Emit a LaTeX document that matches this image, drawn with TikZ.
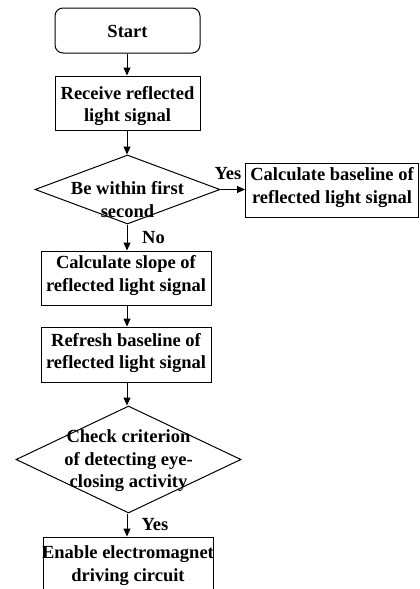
\documentclass[tikz,border=0pt]{standalone}
\usepackage{fontspec}
\setmainfont{Liberation Serif}
\usetikzlibrary{shapes.geometric,arrows.meta}
\tikzset{
  base/.style={font=\fontsize{18.5}{22.5}\selectfont\bfseries, align=center, line width=1pt},
  procbox/.style={base, draw, rectangle, inner sep=0pt},
  startbox/.style={base, draw, rectangle, rounded corners=8pt, inner sep=0pt},
  decbox/.style={draw, diamond, line width=1pt, inner sep=0pt},
  txt/.style={base, inner sep=0pt},
  arr/.style={line width=1pt, -{Triangle[length=8pt,width=7pt]}},
  lbl/.style={base, inner sep=0pt}
}
\begin{document}
\begin{tikzpicture}[x=1pt,y=-1pt]
\useasboundingbox (0,0) rectangle (420,589);
\node[startbox, minimum width=145pt, minimum height=45pt] (start) at (127.5,30.5) {};
\node[txt] (starttxt) at (127.5,31) {Start};
\node[procbox, minimum width=145pt, minimum height=54pt] (recv) at (127.5,103) {};
\node[txt] (recvtxt) at (127.5,106) {Receive reflected\\light signal};
\node[decbox, minimum width=185pt, minimum height=69pt] (d1) at (127.5,189.5) {};
\node[txt] (d1txt) at (127.5,199.5) {Be within first\\second};
\node[procbox, minimum width=173pt, minimum height=54pt] (bl) at (332,190) {};
\node[txt] (bltxt) at (332,187.5) {Calculate baseline of\\reflected light signal};
\node[procbox, minimum width=170pt, minimum height=54pt] (slope) at (126,278) {};
\node[txt] (slopetxt) at (126,275.5) {Calculate slope of\\reflected light signal};
\node[procbox, minimum width=170pt, minimum height=55pt] (refresh) at (126,354.5) {};
\node[txt] (refreshtxt) at (126,353) {Refresh baseline of\\reflected light signal};
\node[decbox, minimum width=225pt, minimum height=107pt] (d2) at (128.5,459.5) {};
\node[txt] (d2txt) at (128.5,461) {Check criterion\\of detecting eye-\\closing activity};
\node[procbox, minimum width=170pt, minimum height=60pt] (en) at (128,567) {};
\node[txt] (entxt) at (128,565.5) {Enable electromagnet\\driving circuit};
\draw[arr] (start.south -| 127,0) -- (recv.north -| 127,0);
\draw[arr] (recv.south -| 127,0) -- (d1.north -| 127,0);
\draw[arr] (d1.south -| 127,0) -- (slope.north -| 127,0);
\node[lbl] (no) at (153.5,238) {No};
\draw[arr] (slope.south -| 127,0) -- (refresh.north -| 127,0);
\draw[arr] (refresh.south -| 127,0) -- (d2.north -| 127,0);
\draw[arr] (d2.south -| 127,0) -- (en.north -| 127,0);
\node[lbl] (yes2) at (155,525) {Yes};
\draw[arr] (d1.east) -- (bl.west |- d1.east);
\node[lbl] (yes1) at (228,174) {Yes};
\end{tikzpicture}
\end{document}
